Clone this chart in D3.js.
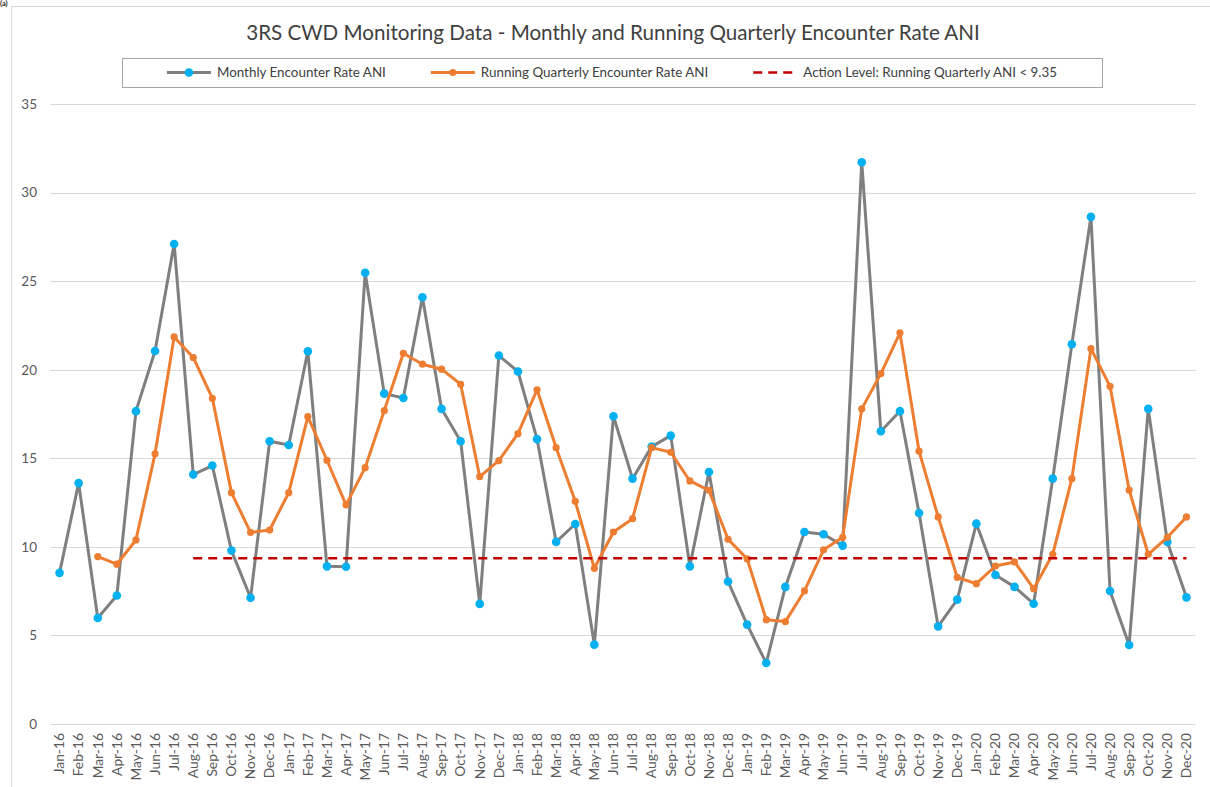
<!DOCTYPE html>
<html>
<head>
<meta charset="utf-8">
<script src="https://cdn.jsdelivr.net/npm/d3@7"></script>
<style>
  html, body { margin: 0; padding: 0; background: #ffffff; }
  svg { display: block; font-family: Lato, "Open Sans", sans-serif; }
</style>
</head>
<body>
<svg id="chart" width="1210" height="787"></svg>
<script>
const title = "3RS CWD Monitoring Data - Monthly and Running Quarterly Encounter Rate ANI";
const seriesNames = ["Monthly Encounter Rate ANI", "Running Quarterly Encounter Rate ANI", "Action Level: Running Quarterly ANI < 9.35"];
const months = [
  "Jan-16","Feb-16","Mar-16","Apr-16","May-16","Jun-16","Jul-16","Aug-16","Sep-16","Oct-16","Nov-16","Dec-16",
  "Jan-17","Feb-17","Mar-17","Apr-17","May-17","Jun-17","Jul-17","Aug-17","Sep-17","Oct-17","Nov-17","Dec-17",
  "Jan-18","Feb-18","Mar-18","Apr-18","May-18","Jun-18","Jul-18","Aug-18","Sep-18","Oct-18","Nov-18","Dec-18",
  "Jan-19","Feb-19","Mar-19","Apr-19","May-19","Jun-19","Jul-19","Aug-19","Sep-19","Oct-19","Nov-19","Dec-19",
  "Jan-20","Feb-20","Mar-20","Apr-20","May-20","Jun-20","Jul-20","Aug-20","Sep-20","Oct-20","Nov-20","Dec-20"
];
const monthly = [
  8.53,13.6,5.98,7.25,17.66,21.06,27.1,14.08,14.59,9.79,7.13,15.96,
  15.75,21.04,8.9,8.88,25.47,18.65,18.4,24.09,17.79,15.96,6.78,20.8,
  19.9,16.08,10.28,11.29,4.48,17.37,13.85,15.66,16.28,8.9,14.23,8.04,
  5.61,3.44,7.74,10.84,10.71,10.07,31.71,16.53,17.66,11.91,5.51,7.02,
  11.31,8.41,7.74,6.79,13.85,21.44,28.63,7.51,4.46,17.79,10.28,7.15
];
const quarterly = [
  null,null,9.45,9.02,10.39,15.25,21.85,20.69,18.39,13.06,10.82,10.95,
  13.06,17.35,14.89,12.37,14.47,17.69,20.93,20.31,20.03,19.18,13.96,14.87,
  16.39,18.87,15.6,12.57,8.79,10.84,11.59,15.6,15.34,13.72,13.19,10.43,
  9.32,5.89,5.78,7.51,9.83,10.54,17.79,19.78,22.08,15.4,11.69,8.28,
  7.92,8.92,9.15,7.64,9.58,13.85,21.19,19.06,13.21,9.58,10.54,11.69
];
const actionLevelValue = 9.35;
const actionStart = "Aug-16";
const yTicks = [0,5,10,15,20,25,30,35];

const svg = d3.select("#chart");
const plot = {left: 50, right: 1196, top: 104, bottom: 724};

// chart area border (cropped)
svg.append("rect").attr("x", 11.5).attr("y", 6.5).attr("width", 1300).attr("height", 900)
  .attr("fill", "none").attr("stroke", "#d9d9d9").attr("stroke-width", 1);
// panel label
svg.append("text").attr("x", 0).attr("y", 6).attr("font-size", 7.5).attr("font-weight", "bold")
  .attr("fill", "#222").text("(a)");

const x = d3.scaleBand().domain(months).range([plot.left, plot.right]).paddingInner(0).paddingOuter(0);
const y = d3.scaleLinear().domain([0, 35]).range([plot.bottom, plot.top]);
const cx = d => x(d) + x.bandwidth() / 2;

// gridlines
svg.append("g").selectAll("line").data(yTicks).join("line")
  .attr("x1", plot.left).attr("x2", plot.right)
  .attr("y1", d => Math.round(y(d)) + 0.5).attr("y2", d => Math.round(y(d)) + 0.5)
  .attr("stroke", "#d9d9d9").attr("stroke-width", 1);

// y axis labels
const yAxis = d3.axisLeft(y).tickValues(yTicks).tickSize(0).tickPadding(0);
const yg = svg.append("g").attr("transform", `translate(${plot.left - 13},0)`).call(yAxis);
yg.select(".domain").remove();
yg.selectAll("text").attr("font-size", 13.5).attr("fill", "#595959").attr("font-family", "Lato, sans-serif");

// x axis
const xAxis = d3.axisBottom(x).tickSize(0).tickPadding(0);
const xg = svg.append("g").attr("transform", `translate(0,${plot.bottom})`).call(xAxis);
xg.select(".domain").remove();
xg.selectAll("text")
  .attr("font-size", 13.8).attr("fill", "#595959").attr("font-family", "Lato, sans-serif")
  .attr("transform", "rotate(-90)")
  .attr("text-anchor", "end")
  .attr("dy", "0.35em")
  .attr("x", -9).attr("y", 0);

// monthly series
const data = months.map((m, i) => ({m, v: monthly[i], q: quarterly[i]}));
const lineM = d3.line().x(d => cx(d.m)).y(d => y(d.v));
svg.append("path").datum(data).attr("d", lineM)
  .attr("fill", "none").attr("stroke", "#7f7f7f").attr("stroke-width", 3).attr("stroke-linejoin", "round");
svg.append("g").selectAll("circle").data(data).join("circle")
  .attr("cx", d => cx(d.m)).attr("cy", d => y(d.v)).attr("r", 4.3).attr("fill", "#00b0f0");

// quarterly
const qData = data.filter(d => d.q != null);
const lineQ = d3.line().x(d => cx(d.m)).y(d => y(d.q));
svg.append("path").datum(qData).attr("d", lineQ)
  .attr("fill", "none").attr("stroke", "#ed7d31").attr("stroke-width", 3).attr("stroke-linejoin", "round");
svg.append("g").selectAll("circle").data(qData).join("circle")
  .attr("cx", d => cx(d.m)).attr("cy", d => y(d.q)).attr("r", 3.6).attr("fill", "#ed7d31");

// action level
const aData = months.slice(months.indexOf(actionStart)).map(m => ({m, v: actionLevelValue}));
svg.append("path").datum(aData).attr("d", d3.line().x(d => cx(d.m)).y(d => y(d.v)))
  .attr("fill", "none").attr("stroke", "#c00000").attr("stroke-width", 2.5).attr("stroke-dasharray", "9,6");

// title
svg.append("text").attr("x", 613).attr("y", 40).attr("text-anchor", "middle")
  .attr("font-size", 20.6).attr("fill", "#404040").text(title);

// legend
const lg = svg.append("g");
const legY = 72.5;
const box = lg.append("rect").attr("y", 58.5).attr("height", 29).attr("fill", "#fff")
  .attr("stroke", "#a6a6a6").attr("stroke-width", 1);
const items = [];
const gapItem = 45, pad = 45, symW = 44, symGap = 6;
seriesNames.forEach((name, i) => {
  const g = lg.append("g");
  const t = g.append("text").attr("x", symW + symGap).attr("y", legY).attr("dy", "0.35em")
    .attr("font-size", 13.4).attr("fill", "#404040").text(name);
  items.push({g, w: symW + symGap + t.node().getComputedTextLength(), i});
});
const total = d3.sum(items, d => d.w) + gapItem * (items.length - 1);
const boxW = total + 2 * pad;
const boxX = 612 - boxW / 2;
box.attr("x", Math.round(boxX) + 0.5).attr("width", Math.round(boxW));
let cur = boxX + pad;
items.forEach(it => {
  it.g.attr("transform", `translate(${cur},0)`);
  if (it.i === 0) {
    it.g.append("line").attr("x1", 0).attr("x2", symW).attr("y1", legY).attr("y2", legY)
      .attr("stroke", "#7f7f7f").attr("stroke-width", 3);
    it.g.append("circle").attr("cx", symW / 2).attr("cy", legY).attr("r", 4.3).attr("fill", "#00b0f0");
  } else if (it.i === 1) {
    it.g.append("line").attr("x1", 0).attr("x2", symW).attr("y1", legY).attr("y2", legY)
      .attr("stroke", "#ed7d31").attr("stroke-width", 3);
    it.g.append("circle").attr("cx", symW / 2).attr("cy", legY).attr("r", 3.6).attr("fill", "#ed7d31");
  } else {
    it.g.append("line").attr("x1", 0).attr("x2", symW).attr("y1", legY).attr("y2", legY)
      .attr("stroke", "#c00000").attr("stroke-width", 2.5).attr("stroke-dasharray", "9,6");
  }
  cur += it.w + gapItem;
});
</script>
</body>
</html>
